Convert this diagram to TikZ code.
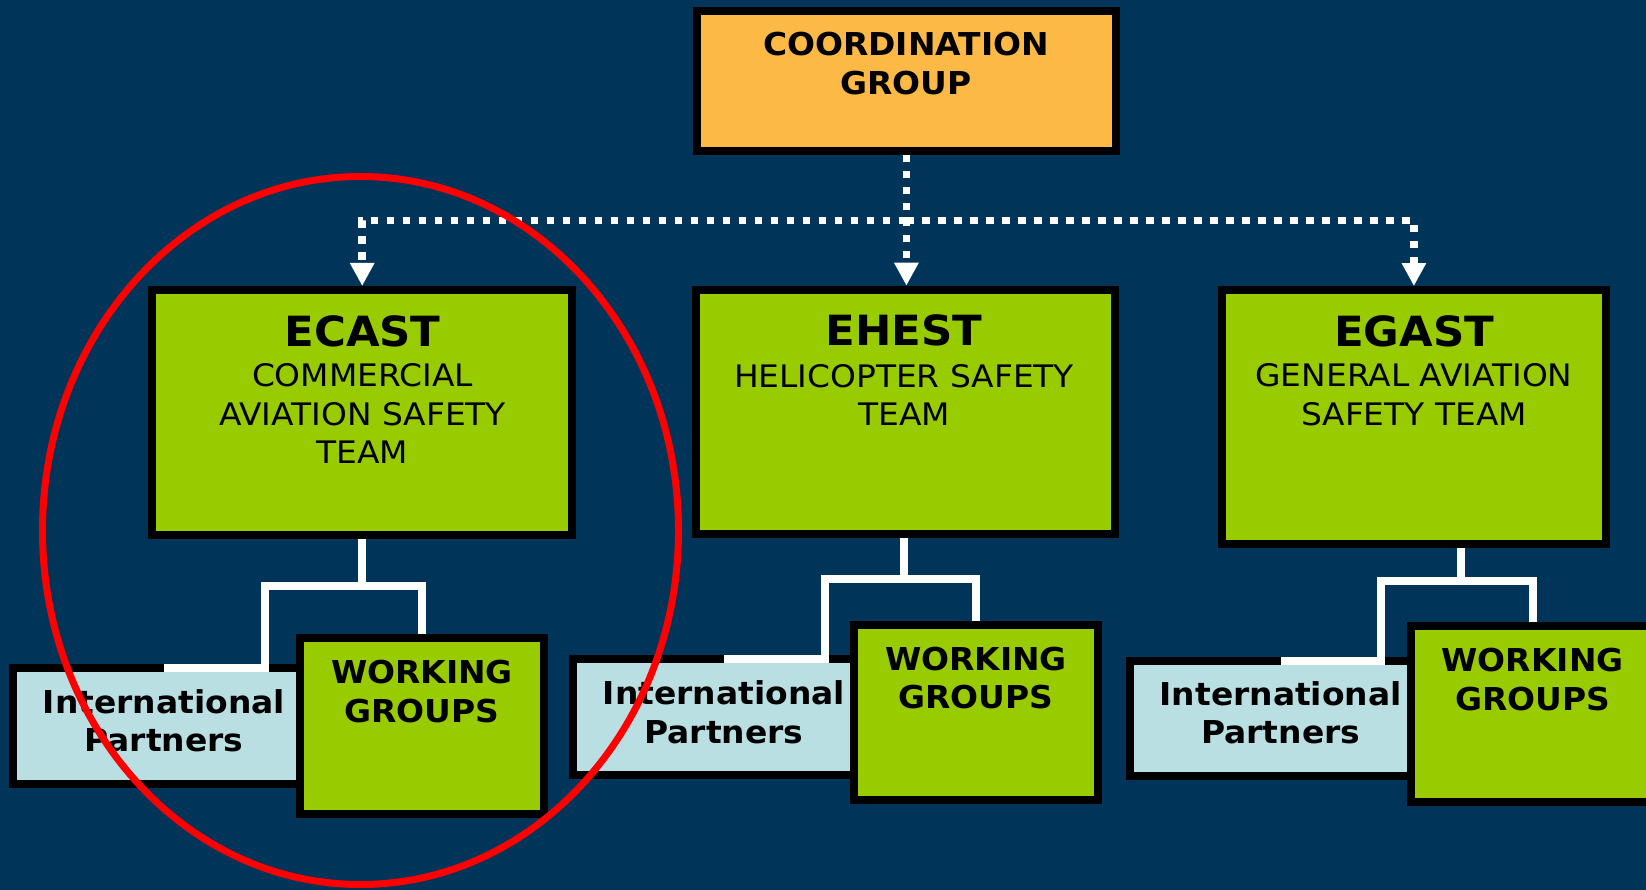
\documentclass[tikz,border=0pt]{standalone}
\usepackage{fontspec}
\setmainfont{DejaVu Sans}[FakeStretch=1.06,BoldFeatures={FakeStretch=1.045}]
\usetikzlibrary{arrows.meta}
\definecolor{bgblue}{RGB}{0,52,89}
\definecolor{orangebox}{RGB}{252,185,69}
\definecolor{greenbox}{RGB}{153,204,0}
\definecolor{ipblue}{RGB}{185,223,227}
\begin{document}
\begin{tikzpicture}[x=1pt,y=-1pt,
  frame/.style={draw=black,line width=8pt,inner sep=0pt,outer sep=0pt},
  topbox/.style={frame,fill=greenbox},
  ipbox/.style={frame,fill=ipblue,minimum width=302pt,minimum height=115.5pt},
  wgbox/.style={frame,fill=greenbox,minimum width=243.5pt,minimum height=175.6pt},
  conn/.style={draw=white,line width=8pt},
  dotline/.style={draw=white,line width=7.5pt,dash pattern=on 7.5pt off 8.5pt,
    -{Triangle[width=23pt,length=23pt]},shorten >=4pt},
  ttl/.style={inner sep=0pt,anchor=north,align=center,text=black,
    font=\fontsize{41.6}{50}\selectfont\bfseries},
  body/.style={inner sep=0pt,anchor=north,align=center,text=black,
    font=\fontsize{31}{38.3}\selectfont},
  bold/.style={inner sep=0pt,anchor=north,align=center,text=black,
    font=\fontsize{31.5}{38.5}\selectfont\bfseries}
]
\useasboundingbox (0,0) rectangle (1646,890);
\fill[bgblue] (0,0) rectangle (1646,890);

% coordination box
\node[frame,fill=orangebox,minimum width=419.3pt,minimum height=140.3pt] (coord) at (906.4,80.8) {};

% placement of team boxes (for anchors)
\coordinate (bus) at (906.4,220.5);
\node[topbox,minimum width=419.7pt,minimum height=245pt,draw=none,fill=none] (ecastpos) at (362.2,412.5) {};
\node[topbox,minimum width=419.7pt,minimum height=244.6pt,draw=none,fill=none] (ehestpos) at (905.5,412) {};
\node[topbox,minimum width=384.3pt,minimum height=253.7pt,draw=none,fill=none] (egastpos) at (1413.9,416.9) {};

% dotted arrows
\draw[dotline,shorten <=4pt] (coord.south) -- (coord.south |- ehestpos.north);
\draw[dotline] (bus) -| (ecastpos.north);
\draw[dotline] (bus) -| (egastpos.north);

% international partners boxes
\node[ipbox] (ipA) at (164,725.9) {};
\node[ipbox] (ipB) at (724,717) {};
\node[ipbox] (ipC) at (1280.7,718.7) {};

% connector junctions
\coordinate (ja) at (362.2,586);
\coordinate (la) at (264.6,586);
\coordinate (jb) at (903.9,579);
\coordinate (lb) at (824.6,579);
\coordinate (jc) at (1461,581);
\coordinate (lc) at (1381,581);

% working groups placement (for anchors)
\node[wgbox,draw=none,fill=none] (wgApos) at (422,725.9) {};
\node[wgbox,draw=none,fill=none] (wgBpos) at (976,712.5) {};
\node[wgbox,draw=none,fill=none] (wgCpos) at (1533,714) {};

% connectors
\draw[conn] (ecastpos.south) -- (ja);
\draw[conn] (ja) -- (la) |- (ipA.north);
\draw[conn] (ja) -| (wgApos.north);
\draw[conn] (jb |- ehestpos.south) -- (jb);
\draw[conn] (jb) -- (lb) |- (ipB.north);
\draw[conn] (jb) -| (wgBpos.north);
\draw[conn] (jc |- egastpos.south) -- (jc);
\draw[conn] (jc) -- (lc) |- (ipC.north);
\draw[conn] (jc) -| (wgCpos.north);

% working group boxes
\node[wgbox] (wgA) at (wgApos) {};
\node[wgbox] (wgB) at (wgBpos) {};
\node[wgbox] (wgC) at (wgCpos) {};

% team boxes
\node[topbox,minimum width=419.7pt,minimum height=245pt] (ecast) at (ecastpos) {};
\node[topbox,minimum width=419.7pt,minimum height=244.6pt] (ehest) at (ehestpos) {};
\node[topbox,minimum width=384.3pt,minimum height=253.7pt] (egast) at (egastpos) {};

% texts
\node[bold] (tcoord) at (906,32.2) {COORDINATION\\GROUP};
\node[ttl] (tecast) at (362.5,315) {ECAST};
\node[body] (becast) at (362.5,363.5) {COMMERCIAL\\AVIATION SAFETY\\TEAM};
\node[ttl] (tehest) at (904,314.5) {EHEST};
\node[body] (behest) at (904,363.8) {HELICOPTER SAFETY\\TEAM};
\node[ttl] (tegast) at (1414,315) {EGAST};
\node[body] (begast) at (1414,363.5) {GENERAL AVIATION\\SAFETY TEAM};

\node[bold] (tipA) at (164,689) {International\\Partners};
\node[bold] (tipB) at (724,680.7) {International\\Partners};
\node[bold] (tipC) at (1280.7,681.3) {International\\Partners};
\node[bold] (twgA) at (422,660) {WORKING\\GROUPS};
\node[bold] (twgB) at (976,646.7) {WORKING\\GROUPS};
\node[bold] (twgC) at (1532.6,648.3) {WORKING\\GROUPS};

% red highlight ellipse
\draw[red,line width=7pt] (360.5,530.5) ellipse [x radius=318pt,y radius=354pt];
\end{tikzpicture}
\end{document}
